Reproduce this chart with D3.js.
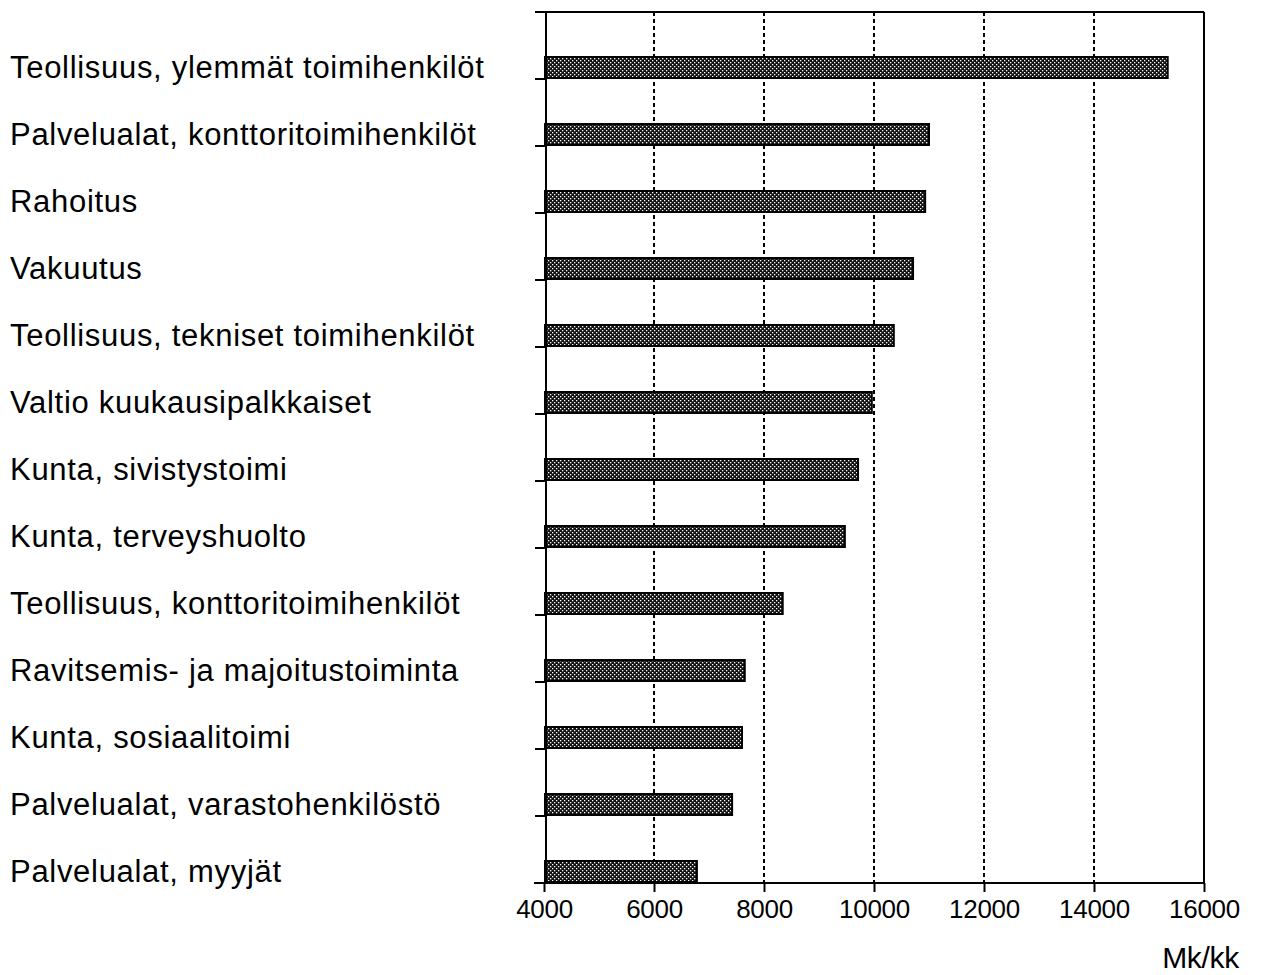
<!DOCTYPE html>
<html><head><meta charset="utf-8">
<script src="https://cdn.jsdelivr.net/npm/d3@7"></script>
<style>body{margin:0;background:#fff;} svg{display:block;}</style>
</head><body>
<script>
const categories = [
  "Teollisuus, ylemmät toimihenkilöt",
  "Palvelualat, konttoritoimihenkilöt",
  "Rahoitus",
  "Vakuutus",
  "Teollisuus, tekniset toimihenkilöt",
  "Valtio kuukausipalkkaiset",
  "Kunta, sivistystoimi",
  "Kunta, terveyshuolto",
  "Teollisuus, konttoritoimihenkilöt",
  "Ravitsemis- ja majoitustoiminta",
  "Kunta, sosiaalitoimi",
  "Palvelualat, varastohenkilöstö",
  "Palvelualat, myyjät"
];
const values = [15340, 11000, 10930, 10710, 10360, 9960, 9710, 9470, 8340, 7650, 7600, 7420, 6780];
const xTicks = [4000, 6000, 8000, 10000, 12000, 14000, 16000];
const unitLabel = "Mk/kk";

(function(){
const W = 1262, H = 975;
const mL = 544, mR = 1204, mT = 12, mB = 883;
const font = "Liberation Sans, Arial, sans-serif";
const svg = d3.select("body").append("svg").attr("width", W).attr("height", H);
const defs = svg.append("defs");
const pat = defs.append("pattern").attr("id","dots").attr("patternUnits","userSpaceOnUse")
  .attr("width",4).attr("height",4);
pat.append("rect").attr("width",4).attr("height",4).attr("fill","#111");
pat.append("rect").attr("x",0).attr("y",0).attr("width",1.3).attr("height",1.3).attr("fill","#fff");
pat.append("rect").attr("x",2).attr("y",2).attr("width",1.3).attr("height",1.3).attr("fill","#fff");

const x = d3.scaleLinear().domain([4000,16000]).range([mL,mR]);
const y = d3.scaleBand().domain(categories).range([mT,mB]);
const bh = 21;

svg.append("g").selectAll("line").data(xTicks.slice(1,-1)).join("line")
  .attr("x1",d=>x(d)).attr("x2",d=>x(d)).attr("y1",mT).attr("y2",mB)
  .attr("stroke","#000").attr("stroke-width",2).attr("stroke-dasharray","4,3");

svg.append("g").selectAll("rect").data(categories).join("rect")
  .attr("x", x(4000)+1)
  .attr("y", d=>y(d)+y.bandwidth()-bh-1)
  .attr("width", (d,i)=>x(values[i])-x(4000)-1)
  .attr("height", bh)
  .attr("fill","url(#dots)").attr("stroke","#000").attr("stroke-width",2);

svg.append("line").attr("x1",535).attr("x2",mR).attr("y1",mT).attr("y2",mT).attr("stroke","#000").attr("stroke-width",2);
svg.append("line").attr("x1",mR).attr("x2",mR).attr("y1",mT).attr("y2",mB).attr("stroke","#000").attr("stroke-width",2);
svg.append("line").attr("x1",mL+2).attr("x2",mL+2).attr("y1",mT).attr("y2",mB).attr("stroke","#000").attr("stroke-width",2);

svg.append("g").selectAll("line").data(categories).join("line")
  .attr("x1",535).attr("x2",mL+2)
  .attr("y1",d=>y(d)+y.bandwidth()).attr("y2",d=>y(d)+y.bandwidth())
  .attr("stroke","#000").attr("stroke-width",2);

const xAxis = svg.append("g").attr("transform",`translate(0,${mB})`)
  .call(d3.axisBottom(x).tickValues(xTicks).tickSize(9).tickPadding(8).tickFormat(d3.format("d")));
xAxis.select(".domain").attr("d",`M534,0H${mR}`).attr("stroke-width",2);
xAxis.selectAll(".tick line").attr("stroke-width",2);
xAxis.selectAll(".tick text").attr("font-family",font)
  .attr("font-size",26).attr("fill","#000").attr("letter-spacing",-0.3);

svg.append("g").selectAll("text").data(categories).join("text")
  .attr("x",10).attr("y",d=>y(d)+y.bandwidth()-bh/2-1)
  .attr("dy","0.35em")
  .attr("font-family",font).attr("font-size",31)
  .attr("letter-spacing",0.7)
  .text(d=>d);

svg.append("text").attr("x",1239).attr("y",968).attr("text-anchor","end")
  .attr("font-family",font).attr("font-size",30)
  .attr("letter-spacing",-0.3).text(unitLabel);
})();
</script>
</body></html>
